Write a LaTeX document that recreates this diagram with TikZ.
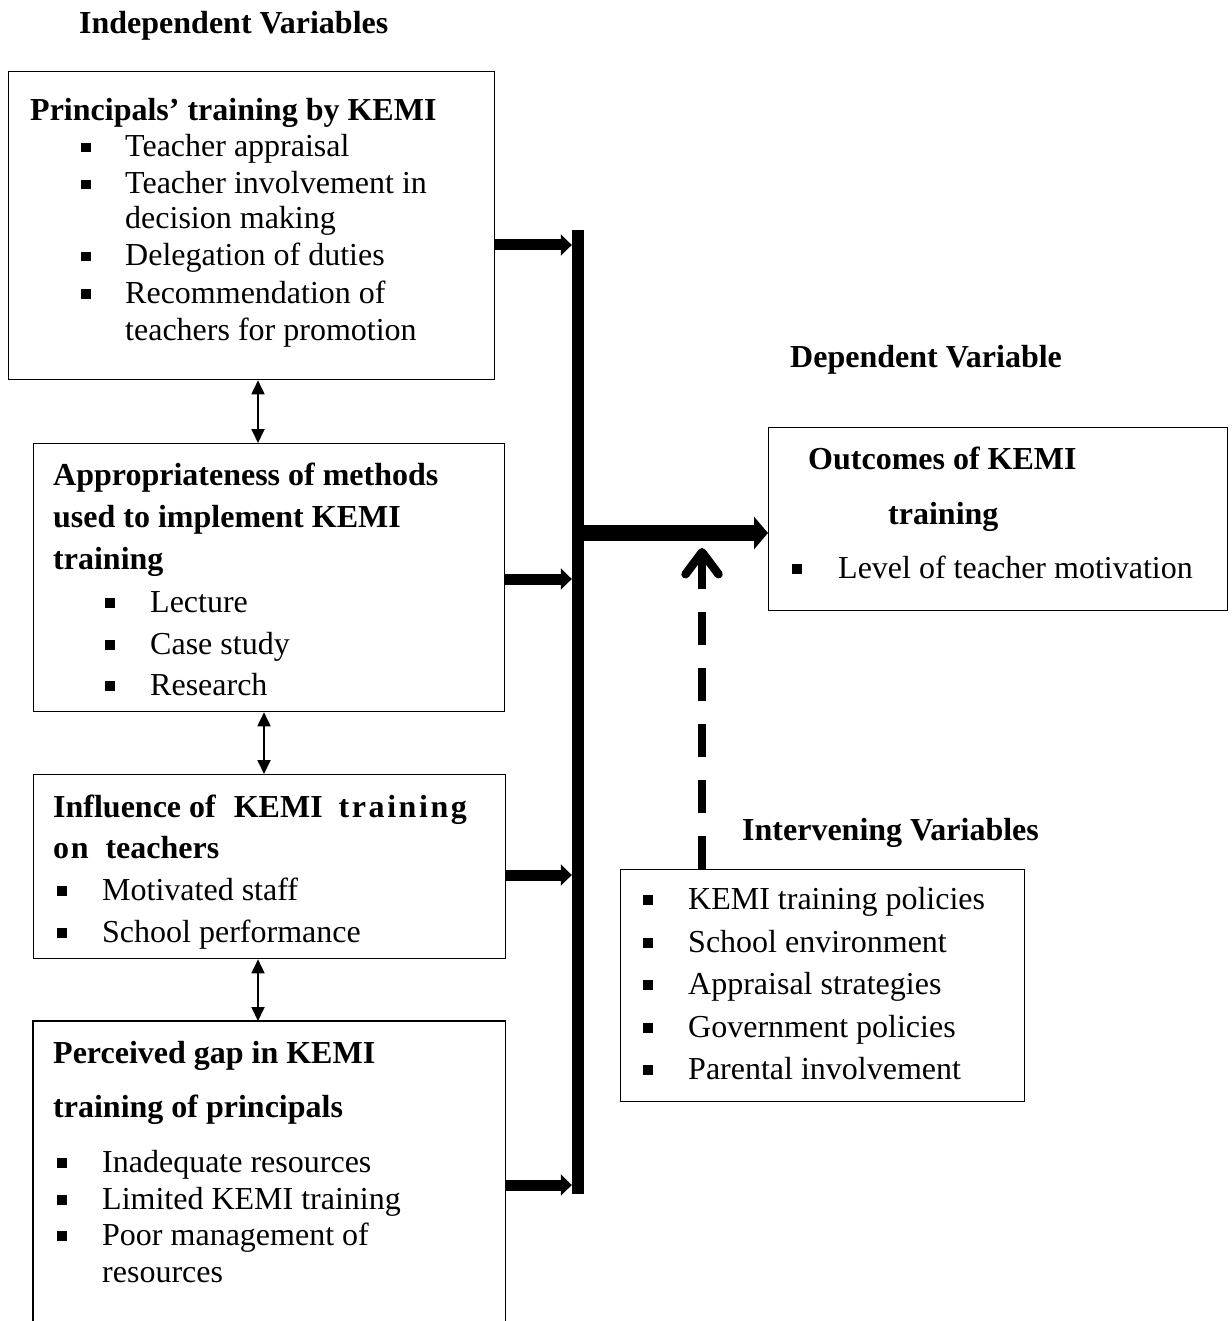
\documentclass[tikz,border=0pt]{standalone}
\usepackage{fontspec}
\setmainfont{Liberation Serif}
\usetikzlibrary{arrows.meta}
\begin{document}
\begin{tikzpicture}[x=1pt,y=-1pt,
  box/.style={draw, line width=1.3pt, anchor=north west, inner sep=0pt},
  txt/.style={anchor=base west, inner sep=0pt, yshift=-2pt, font=\fontsize{32}{37}\selectfont},
  hd/.style={anchor=base west, inner sep=0pt, yshift=-2pt, font=\fontsize{32}{37}\selectfont\bfseries},
  bul/.style={anchor=base, inner sep=0pt, yshift=-2pt},
  flow/.style={line width=11pt, -{Triangle[length=11pt,width=21pt]}},
  mainflow/.style={line width=16pt, -{Triangle[length=14pt,width=32pt]}},
  dbl/.style={line width=1.8pt, {Triangle[length=14pt,width=13pt]}-{Triangle[length=14pt,width=13pt]}},
  dashflow/.style={line width=8.5pt, dash pattern=on 33pt off 23pt, -{Straight Barb[length=22pt,width=33pt,round]}}
]
\useasboundingbox (0,0) rectangle (1231,1321);
\newcommand{\bsq}{\rule[4.5pt]{9.5pt}{9.5pt}}

% headings
\node[hd] (hind) at (79,32) {Independent Variables};
\node[hd] (hdep) at (790,365) {Dependent Variable};
\node[hd] (hint) at (742,838) {Intervening Variables};

% boxes
\node[box, minimum width=486pt, minimum height=308pt] (b1) at (8,71) {};
\node[box, minimum width=471pt, minimum height=268pt] (b2) at (33,443) {};
\node[box, minimum width=472pt, minimum height=184pt] (b3) at (33,774) {};
\node[anchor=north west, inner sep=0pt, minimum width=472pt, minimum height=300pt] (b4) at (33,1021) {};
\draw[line width=1.3pt] (b4.south west) -- (b4.north west) -- (b4.north east) -- (b4.south east);
\node[box, minimum width=459pt, minimum height=183pt] (b5) at (768,427) {};
\node[box, minimum width=404pt, minimum height=232pt] (b6) at (620,869) {};

% bar
\node[fill, inner sep=0pt, minimum width=12pt, minimum height=964pt, anchor=north] (bar) at (578,230) {};

% box 1 text
\node[hd] (t1) at (30,119) {Principals’ training by KEMI};
\node[bul] (p1) at (86,155) {\bsq};
\node[txt] (i11) at (125,155) {Teacher appraisal};
\node[bul] (p2) at (86,192) {\bsq};
\node[txt] (i12) at (125,192) {Teacher involvement in};
\node[txt] (i13) at (125,227) {decision making};
\node[bul] (p3) at (86,264) {\bsq};
\node[txt] (i14) at (125,264) {Delegation of duties};
\node[bul] (p4) at (86,301) {\bsq};
\node[txt] (i15) at (125,301) {Recommendation of};
\node[txt] (i16) at (125,338) {teachers for promotion};

% box 2 text
\node[hd] (t21) at (53,483) {Appropriateness of methods};
\node[hd] (t22) at (53,525) {used to implement KEMI};
\node[hd] (t23) at (53,567) {training};
\node[bul] (q1) at (110,610) {\bsq};
\node[txt] (i21) at (150,610) {Lecture};
\node[bul] (q2) at (110,652) {\bsq};
\node[txt] (i22) at (150,652) {Case study};
\node[bul] (q3) at (110,693) {\bsq};
\node[txt] (i23) at (150,693) {Research};

% box 3 text
\node[hd] (t31) at (53,815) {Influence of\hspace{10pt} KEMI\hspace{8pt} {\addfontfeature{LetterSpace=8}training}};
\node[hd] (t32) at (53,856) {{\addfontfeature{LetterSpace=5}on}\hspace{9pt} teachers};
\node[bul] (r1) at (62,898) {\bsq};
\node[txt] (i31) at (102,898) {Motivated staff};
\node[bul] (r2) at (62,940) {\bsq};
\node[txt] (i32) at (102,940) {School performance};

% box 4 text
\node[hd] (t41) at (53,1061) {Perceived gap in KEMI};
\node[hd] (t42) at (53,1115) {training of principals};
\node[bul] (s1) at (62,1170) {\bsq};
\node[txt] (i41) at (102,1170) {Inadequate resources};
\node[bul] (s2) at (62,1207) {\bsq};
\node[txt] (i42) at (102,1207) {Limited KEMI training};
\node[bul] (s3) at (62,1243) {\bsq};
\node[txt] (i43) at (102,1243) {Poor management of};
\node[txt] (i44) at (102,1280) {resources};

% box 5 text
\node[hd] (t51) at (808,467) {Outcomes of KEMI};
\node[hd] (t52) at (888,522) {training};
\node[bul] (u1) at (797,576) {\bsq};
\node[txt] (i51) at (838,576) {Level of teacher motivation};

% box 6 text
\node[bul] (v1) at (648,907) {\bsq};
\node[txt] (i61) at (688,907) {KEMI training policies};
\node[bul] (v2) at (648,950) {\bsq};
\node[txt] (i62) at (688,950) {School environment};
\node[bul] (v3) at (648,992) {\bsq};
\node[txt] (i63) at (688,992) {Appraisal strategies};
\node[bul] (v4) at (648,1035) {\bsq};
\node[txt] (i64) at (688,1035) {Government policies};
\node[bul] (v5) at (648,1077) {\bsq};
\node[txt] (i65) at (688,1077) {Parental involvement};

% connector coordinates
\coordinate (ya) at (0,245);
\coordinate (yb) at (0,579);
\coordinate (yc) at (0,875);
\coordinate (yd) at (0,1185);
\coordinate (ym) at (0,533);
\coordinate (xa) at (258,0);
\coordinate (xb) at (264,0);
\coordinate (xc) at (258,0);
\coordinate (dt) at (702,548);

% arrows into bar
\draw[flow] (b1.east |- ya) -- (bar.west |- ya);
\draw[flow] (b2.east |- yb) -- (bar.west |- yb);
\draw[flow] (b3.east |- yc) -- (bar.west |- yc);
\draw[flow] (b4.east |- yd) -- (bar.west |- yd);

% main arrow
\draw[mainflow] (bar.east |- ym) -- (b5.west |- ym);

% double arrows
\draw[dbl] (b1.south -| xa) -- (b2.north -| xa);
\draw[dbl] (b2.south -| xb) -- (b3.north -| xb);
\draw[dbl] (b3.south -| xc) -- (b4.north -| xc);

% dashed arrow
\draw[dashflow] (b6.north -| dt) -- (dt);
\end{tikzpicture}
\end{document}
